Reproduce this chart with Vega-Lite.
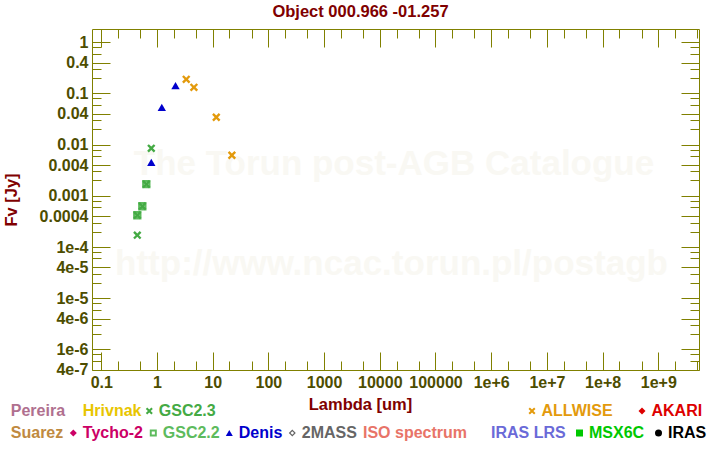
{
  "$schema": "https://vega.github.io/schema/vega-lite/v6.json",
  "width": 607,
  "height": 341,
  "autosize": {"type": "none"},
  "padding": {"left": 92, "top": 29, "right": 21, "bottom": 80},
  "background": "white",
  "title": {
    "text": "Object 000.966 -01.257",
    "color": "#800000",
    "font": "Liberation Sans",
    "fontSize": 16.5,
    "fontWeight": "bold",
    "anchor": "middle",
    "frame": "group",
    "dx": -35,
    "offset": -5,
    "baseline": "alphabetic"
  },
  "config": {
    "view": {"stroke": "#808000", "strokeWidth": 1},
    "axis": {"grid": false, "domain": false, "tickColor": "#808000", "tickWidth": 1, "labelOverlap": false, "labelFlush": false, "labelBound": false},
    "legend": {"labelLimit": 0}
  },
  "datasets": {
    "phot": [
      {"catalog": "ALLWISE", "lambda": 3.35, "flux": 0.189},
      {"catalog": "ALLWISE", "lambda": 4.6, "flux": 0.132},
      {"catalog": "ALLWISE", "lambda": 11.6, "flux": 0.0343},
      {"catalog": "ALLWISE", "lambda": 22.1, "flux": 0.0062},
      {"catalog": "Denis", "lambda": 0.79, "flux": 0.0045},
      {"catalog": "Denis", "lambda": 1.22, "flux": 0.0533},
      {"catalog": "Denis", "lambda": 2.15, "flux": 0.143},
      {"catalog": "GSC2.2", "lambda": 0.643, "flux": 0.00169},
      {"catalog": "GSC2.2", "lambda": 0.545, "flux": 0.000626},
      {"catalog": "GSC2.2", "lambda": 0.443, "flux": 0.000418},
      {"catalog": "GSC2.3", "lambda": 0.79, "flux": 0.0085},
      {"catalog": "GSC2.3", "lambda": 0.443, "flux": 0.00017},
      {"catalog": "GSC2.3", "lambda": 0.643, "flux": 0.00169},
      {"catalog": "GSC2.3", "lambda": 0.545, "flux": 0.000626},
      {"catalog": "GSC2.3", "lambda": 0.443, "flux": 0.000418}
    ]
  },
  "resolve": {
    "scale": {"color": "independent", "shape": "independent"},
    "axis": {"x": "independent", "y": "independent"}
  },
  "layer": [
    {
      "data": {"values": [{"label": "The Torun post-AGB Catalogue"}]},
      "mark": {"type": "text", "font": "Liberation Sans", "fontWeight": "bold", "fontSize": 35, "color": "#f9f8f3", "align": "center", "baseline": "alphabetic"},
      "encoding": {
        "text": {"field": "label"},
        "x": {"datum": 17990, "type": "quantitative", "scale": {"type": "log", "domain": [0.0681, 5.38e9], "nice": false},
          "axis": {"orient": "top", "values": [0.1, 1, 10, 100, 1000, 10000, 100000, 1e6, 1e7, 1e8, 1e9], "labels": false, "tickSize": -18, "title": null}},
        "y": {"datum": 0.00256, "type": "quantitative", "scale": {"type": "log", "domain": [3.95e-7, 1.82], "nice": false},
          "axis": {"orient": "right", "values": [1, 0.4, 0.1, 0.04, 0.01, 0.004, 0.001, 0.0004, 0.0001, 0.00004, 0.00001, 0.000004, 0.000001, 0.0000004], "labels": false, "tickSize": -18, "title": null}}
      }
    },
    {
      "data": {"values": [{"label": "http://www.ncac.torun.pl/postagb"}]},
      "mark": {"type": "text", "font": "Liberation Sans", "fontWeight": "bold", "fontSize": 35, "color": "#f9f8f3", "align": "center", "baseline": "alphabetic"},
      "encoding": {
        "text": {"field": "label"},
        "x": {"datum": 16220, "type": "quantitative", "scale": {"type": "log", "domain": [0.0681, 5.38e9], "nice": false},
          "axis": {"orient": "top", "values": [0.2, 0.5, 2, 5, 20, 50, 200, 500, 2000, 5000, 20000, 50000, 200000, 500000, 2e6, 5e6, 2e7, 5e7, 2e8, 5e8, 2e9, 5e9], "labels": false, "tickSize": -9, "title": null}},
        "y": {"datum": 0.0000285, "type": "quantitative", "scale": {"type": "log", "domain": [3.95e-7, 1.82], "nice": false},
          "axis": {"orient": "right", "values": [0.8, 0.6, 0.3, 0.2, 0.08, 0.06, 0.03, 0.02, 0.008, 0.006, 0.003, 0.002, 0.0008, 0.0006, 0.0003, 0.0002, 0.00008, 0.00006, 0.00003, 0.00002, 0.000008, 0.000006, 0.000003, 0.000002, 0.0000008, 0.0000006], "labels": false, "tickSize": -9, "title": null}}
      }
    },
    {
      "data": {"name": "phot"},
      "transform": [{"filter": "datum.catalog === 'MSX6C' || datum.catalog === 'IRAS'"}],
      "mark": {"type": "point", "filled": true, "opacity": 1, "strokeWidth": 0, "size": 49},
      "encoding": {
        "x": {"field": "lambda", "type": "quantitative", "scale": {"type": "log", "domain": [0.0681, 5.38e9], "nice": false}, "axis": null},
        "y": {"field": "flux", "type": "quantitative", "scale": {"type": "log", "domain": [3.95e-7, 1.82], "nice": false}, "axis": null},
        "color": {"field": "catalog", "type": "nominal",
          "scale": {"domain": ["ISO spectrum", "IRAS LRS", "MSX6C", "IRAS"], "range": ["#e87468", "#6a6ad8", "#00c800", "#000000"]},
          "legend": {"orient": "none", "legendX": 258, "legendY": 396, "direction": "horizontal", "title": null, "padding": 0, "labelFont": "Liberation Sans", "labelFontSize": 16, "labelFontWeight": "bold", "labelOffset": 1.5, "symbolOffset": -4.5, "symbolSize": 49, "symbolStrokeWidth": 0, "symbolOpacity": 1, "columnPadding": 10,
            "encode": {"labels": {"update": {"fill": {"signal": "({'Pereira':'#b0708f','Hrivnak':'#e8c500','GSC2.3':'#44aa44','ALLWISE':'#e39a0c','AKARI':'#dd0000','Suarez':'#c08a40','Tycho-2':'#cc0066','GSC2.2':'#5dbb5d','Denis':'#0000cc','2MASS':'#666666','ISO spectrum':'#e87468','IRAS LRS':'#6a6ad8','MSX6C':'#00c800','IRAS':'#000000'})[datum.value]"}}}}}},
        "shape": {"field": "catalog", "type": "nominal",
          "scale": {"domain": ["ISO spectrum", "IRAS LRS", "MSX6C", "IRAS"], "range": ["M0,0", "M0,0", "square", "circle"]},
          "legend": {"orient": "none", "legendX": 258, "legendY": 396, "direction": "horizontal", "title": null, "padding": 0, "labelFont": "Liberation Sans", "labelFontSize": 16, "labelFontWeight": "bold", "labelOffset": 1.5, "symbolOffset": -4.5, "symbolSize": 49, "symbolStrokeWidth": 0, "symbolOpacity": 1, "columnPadding": 10}}
      }
    },
    {
      "data": {"name": "phot"},
      "transform": [{"filter": "datum.catalog === 'Denis' || datum.catalog === 'GSC2.2'"}],
      "mark": {"type": "point", "filled": true, "opacity": 1, "strokeWidth": 0, "size": 70},
      "encoding": {
        "x": {"field": "lambda", "type": "quantitative", "scale": {"type": "log", "domain": [0.0681, 5.38e9], "nice": false},
          "axis": {"orient": "bottom", "values": [0.1, 1, 10, 100, 1000, 10000, 100000, 1e6, 1e7, 1e8, 1e9], "ticks": false, "labelExpr": "datum.value >= 1e6 ? '1e+' + round(log(datum.value)/LN10) : '' + datum.value", "labelFont": "Liberation Sans", "labelFontWeight": "bold", "labelFontSize": 16, "labelColor": "#4d4d00", "labelPadding": 4, "title": "Lambda [um]", "titleFont": "Liberation Sans", "titleFontWeight": "bold", "titleFontSize": 16.5, "titleColor": "#800000", "titleX": 268, "titleY": 34, "titleBaseline": "middle", "titleAlign": "center", "titleAnchor": null}},
        "y": {"field": "flux", "type": "quantitative", "scale": {"type": "log", "domain": [3.95e-7, 1.82], "nice": false},
          "axis": {"orient": "left", "values": [1, 0.4, 0.1, 0.04, 0.01, 0.004, 0.001, 0.0004, 0.0001, 0.00004, 0.00001, 0.000004, 0.000001, 0.0000004], "ticks": false, "labelExpr": "datum.value >= 0.0003 ? '' + datum.value : round(datum.value / pow(10, floor(log(datum.value)/LN10 + 1e-6))) + 'e' + floor(log(datum.value)/LN10 + 1e-6)", "labelFont": "Liberation Sans", "labelFontWeight": "bold", "labelFontSize": 16, "labelColor": "#4d4d00", "labelPadding": 4, "title": "Fv [Jy]", "titleFont": "Liberation Sans", "titleFontWeight": "bold", "titleFontSize": 16.5, "titleColor": "#800000", "titleX": -81, "titleY": 170.5, "titleAngle": -90, "titleBaseline": "middle", "titleAlign": "center", "titleAnchor": null}},
        "color": {"field": "catalog", "type": "nominal",
          "scale": {"domain": ["Suarez", "Tycho-2", "GSC2.2", "Denis", "2MASS"], "range": ["#c08a40", "#cc0066", "#5dbb5d", "#0000cc", "#666666"]},
          "legend": {"orient": "none", "legendX": -94.2, "legendY": 396, "direction": "horizontal", "title": null, "padding": 0, "labelFont": "Liberation Sans", "labelFontSize": 16, "labelFontWeight": "bold", "labelOffset": 1.5, "symbolOffset": -4.5, "symbolSize": 49, "symbolStrokeWidth": 0, "symbolOpacity": 1, "columnPadding": 6,
            "encode": {"labels": {"update": {"fill": {"signal": "({'Pereira':'#b0708f','Hrivnak':'#e8c500','GSC2.3':'#44aa44','ALLWISE':'#e39a0c','AKARI':'#dd0000','Suarez':'#c08a40','Tycho-2':'#cc0066','GSC2.2':'#5dbb5d','Denis':'#0000cc','2MASS':'#666666','ISO spectrum':'#e87468','IRAS LRS':'#6a6ad8','MSX6C':'#00c800','IRAS':'#000000'})[datum.value]"}}}}}},
        "shape": {"field": "catalog", "type": "nominal",
          "scale": {"domain": ["Suarez", "Tycho-2", "GSC2.2", "Denis", "2MASS"], "range": ["M0,0", "M0,-1L1,0L0,1L-1,0Z", "M-1,-1L1,-1L1,1L-1,1ZM-0.45,-0.45L-0.45,0.45L0.45,0.45L0.45,-0.45Z", "triangle-up", "M0,-1L1,0L0,1L-1,0ZM0,-0.5L-0.5,0L0,0.5L0.5,0Z"]},
          "legend": {"orient": "none", "legendX": -94.2, "legendY": 396, "direction": "horizontal", "title": null, "padding": 0, "labelFont": "Liberation Sans", "labelFontSize": 16, "labelFontWeight": "bold", "labelOffset": 1.5, "symbolOffset": -4.5, "symbolSize": 49, "symbolStrokeWidth": 0, "symbolOpacity": 1, "columnPadding": 6}}
      }
    },
    {
      "data": {"name": "phot"},
      "transform": [{"filter": "datum.catalog === 'GSC2.3'"}],
      "mark": {"type": "point", "filled": true, "opacity": 1, "strokeWidth": 0, "size": 68},
      "encoding": {
        "x": {"field": "lambda", "type": "quantitative", "scale": {"type": "log", "domain": [0.0681, 5.38e9], "nice": false},
          "axis": {"orient": "bottom", "values": [0.1, 1, 10, 100, 1000, 10000, 100000, 1e6, 1e7, 1e8, 1e9], "labels": false, "tickSize": -18, "title": null}},
        "y": {"field": "flux", "type": "quantitative", "scale": {"type": "log", "domain": [3.95e-7, 1.82], "nice": false},
          "axis": {"orient": "left", "values": [1, 0.4, 0.1, 0.04, 0.01, 0.004, 0.001, 0.0004, 0.0001, 0.00004, 0.00001, 0.000004, 0.000001, 0.0000004], "labels": false, "tickSize": -18, "title": null}},
        "color": {"field": "catalog", "type": "nominal",
          "scale": {"domain": ["Pereira", "Hrivnak", "GSC2.3"], "range": ["#b0708f", "#e8c500", "#44aa44"]},
          "legend": {"orient": "none", "legendX": -94.2, "legendY": 374, "direction": "horizontal", "title": null, "padding": 0, "labelFont": "Liberation Sans", "labelFontSize": 16, "labelFontWeight": "bold", "labelOffset": 1.5, "symbolOffset": -4.5, "symbolSize": 49, "symbolStrokeWidth": 0, "symbolOpacity": 1, "columnPadding": 4,
            "encode": {"labels": {"update": {"fill": {"signal": "({'Pereira':'#b0708f','Hrivnak':'#e8c500','GSC2.3':'#44aa44','ALLWISE':'#e39a0c','AKARI':'#dd0000','Suarez':'#c08a40','Tycho-2':'#cc0066','GSC2.2':'#5dbb5d','Denis':'#0000cc','2MASS':'#666666','ISO spectrum':'#e87468','IRAS LRS':'#6a6ad8','MSX6C':'#00c800','IRAS':'#000000'})[datum.value]"}}}}}},
        "shape": {"field": "catalog", "type": "nominal",
          "scale": {"domain": ["Pereira", "Hrivnak", "GSC2.3"], "range": ["M0,0", "M0,0", "M-1,-0.6L-0.6,-1L0,-0.4L0.6,-1L1,-0.6L0.4,0L1,0.6L0.6,1L0,0.4L-0.6,1L-1,0.6L-0.4,0Z"]},
          "legend": {"orient": "none", "legendX": -94.2, "legendY": 374, "direction": "horizontal", "title": null, "padding": 0, "labelFont": "Liberation Sans", "labelFontSize": 16, "labelFontWeight": "bold", "labelOffset": 1.5, "symbolOffset": -4.5, "symbolSize": 49, "symbolStrokeWidth": 0, "symbolOpacity": 1, "columnPadding": 4}}
      }
    },
    {
      "data": {"name": "phot"},
      "transform": [{"filter": "datum.catalog === 'ALLWISE'"}],
      "mark": {"type": "point", "filled": true, "opacity": 1, "strokeWidth": 0, "size": 70},
      "encoding": {
        "x": {"field": "lambda", "type": "quantitative", "scale": {"type": "log", "domain": [0.0681, 5.38e9], "nice": false},
          "axis": {"orient": "bottom", "values": [0.2, 0.5, 2, 5, 20, 50, 200, 500, 2000, 5000, 20000, 50000, 200000, 500000, 2e6, 5e6, 2e7, 5e7, 2e8, 5e8, 2e9, 5e9], "labels": false, "tickSize": -9, "title": null}},
        "y": {"field": "flux", "type": "quantitative", "scale": {"type": "log", "domain": [3.95e-7, 1.82], "nice": false},
          "axis": {"orient": "left", "values": [0.8, 0.6, 0.3, 0.2, 0.08, 0.06, 0.03, 0.02, 0.008, 0.006, 0.003, 0.002, 0.0008, 0.0006, 0.0003, 0.0002, 0.00008, 0.00006, 0.00003, 0.00002, 0.000008, 0.000006, 0.000003, 0.000002, 0.0000008, 0.0000006], "labels": false, "tickSize": -9, "title": null}},
        "color": {"field": "catalog", "type": "nominal",
          "scale": {"domain": ["ALLWISE", "AKARI"], "range": ["#e39a0c", "#dd0000"]},
          "legend": {"orient": "none", "legendX": 436.5, "legendY": 374, "direction": "horizontal", "title": null, "padding": 0, "labelFont": "Liberation Sans", "labelFontSize": 16, "labelFontWeight": "bold", "labelOffset": 1.5, "symbolOffset": -4.5, "symbolSize": 49, "symbolStrokeWidth": 0, "symbolOpacity": 1, "columnPadding": 25,
            "encode": {"labels": {"update": {"fill": {"signal": "({'Pereira':'#b0708f','Hrivnak':'#e8c500','GSC2.3':'#44aa44','ALLWISE':'#e39a0c','AKARI':'#dd0000','Suarez':'#c08a40','Tycho-2':'#cc0066','GSC2.2':'#5dbb5d','Denis':'#0000cc','2MASS':'#666666','ISO spectrum':'#e87468','IRAS LRS':'#6a6ad8','MSX6C':'#00c800','IRAS':'#000000'})[datum.value]"}}}}}},
        "shape": {"field": "catalog", "type": "nominal",
          "scale": {"domain": ["ALLWISE", "AKARI"], "range": ["M-1,-0.6L-0.6,-1L0,-0.4L0.6,-1L1,-0.6L0.4,0L1,0.6L0.6,1L0,0.4L-0.6,1L-1,0.6L-0.4,0Z", "M0,-1L1,0L0,1L-1,0Z"]},
          "legend": {"orient": "none", "legendX": 436.5, "legendY": 374, "direction": "horizontal", "title": null, "padding": 0, "labelFont": "Liberation Sans", "labelFontSize": 16, "labelFontWeight": "bold", "labelOffset": 1.5, "symbolOffset": -4.5, "symbolSize": 49, "symbolStrokeWidth": 0, "symbolOpacity": 1, "columnPadding": 25}}
      }
    }
  ]
}
